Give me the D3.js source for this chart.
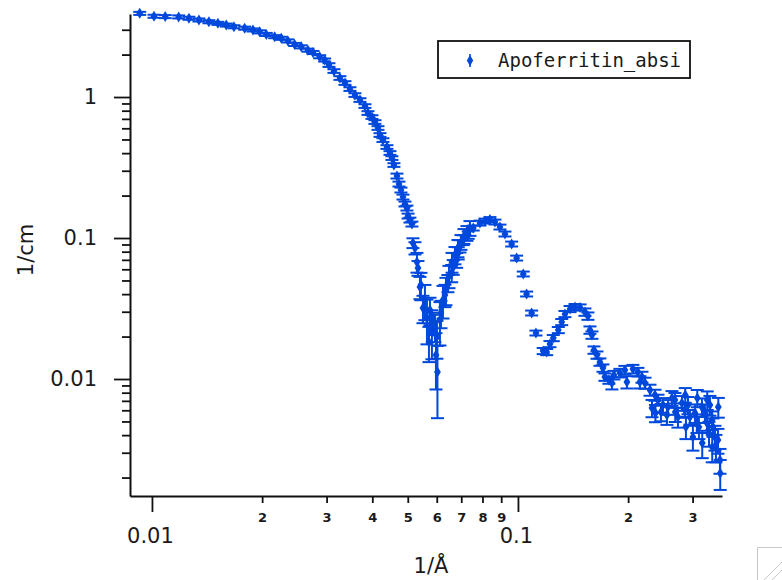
<!DOCTYPE html>
<html lang="en">
<head>
    <meta charset="UTF-8">
    <title>Apoferritin_absi</title>
    <script src="https://cdnjs.cloudflare.com/ajax/libs/d3/7.8.5/d3.min.js"></script>
    <style>
        body {
            margin: 0;
            padding: 0;
            background-color: #ffffff;
        }
        svg { display: block; }
        .axis path, .axis line {
            stroke: #111;
        }
        .axis text {
            fill: #1a1a1a;
            font-family: "DejaVu Sans", sans-serif;
        }
    </style>
</head>
<body>
    <div id="chart"></div>
    <script>
        // q (1/A)
        const qValues = [
            0.00926, 0.01013, 0.01087, 0.01183, 0.01262, 0.01344, 0.01431, 0.01514, 0.01596, 0.01675,
            0.01792, 0.01888, 0.01969, 0.02053, 0.02164, 0.02256, 0.02353, 0.02454, 0.02558, 0.02668,
            0.02754, 0.02872, 0.02964, 0.03045, 0.03142, 0.03263, 0.03368, 0.03475, 0.03586, 0.03701,
            0.03819, 0.03892, 0.03991, 0.04067, 0.04145, 0.04198, 0.04277, 0.04386, 0.04470, 0.04526,
            0.04583, 0.04671, 0.04731, 0.04790, 0.04851, 0.04912, 0.04974, 0.05009, 0.05069, 0.05133,
            0.05165, 0.05231, 0.05331, 0.05398, 0.05501, 0.05749, 0.05858, 0.05712, 0.05932, 0.06007,
            0.06026, 0.05970, 0.06160, 0.06317, 0.06437, 0.06591, 0.06656, 0.06800, 0.06869, 0.06943,
            0.07087, 0.07314, 0.07548, 0.07874, 0.08124, 0.08385, 0.08654, 0.08929, 0.09216, 0.09612,
            0.09917, 0.1034, 0.1056, 0.1090, 0.1120, 0.1172, 0.1198, 0.1223, 0.1249, 0.1289,
            0.1317, 0.1344, 0.1388, 0.1432, 0.1478, 0.1524, 0.1553, 0.1573, 0.1593, 0.1613,
            0.1644, 0.1675, 0.1707, 0.1728, 0.1772, 0.1829, 0.1899, 0.1960, 0.2061, 0.2127,
            0.2182, 0.2224, 0.2295, 0.2368, 0.2413, 0.2490, 0.2569, 0.2685, 0.2806, 0.2859,
            0.2950, 0.3045, 0.3083, 0.3182, 0.3242, 0.3284, 0.3389, 0.3410, 0.3453, 0.3519,
            0.3564, 0.3570, 0.05297, 0.05432, 0.05570, 0.05641, 0.05820, 0.06121, 0.06239, 0.06358,
            0.06479, 0.06603, 0.06728, 0.06856, 0.06987, 0.07120, 0.07255, 0.07394, 0.1985, 0.2324,
            0.2459, 0.2736, 0.2877, 0.3006, 0.3122, 0.3326, 0.3475, 0.2914, 0.3346, 0.2635,
            0.2154, 0.1806, 0.2375, 0.2553, 0.2690, 0.2865, 0.3090, 0.3290, 0.3527, 0.3395,
            0.3188
        ];
        // intensity (1/cm)
        const intensity = [
            3.92, 3.74, 3.72, 3.70, 3.62, 3.52, 3.42, 3.33, 3.24, 3.15,
            3.08, 2.99, 2.90, 2.78, 2.68, 2.61, 2.50, 2.36, 2.27, 2.15,
            2.07, 1.93, 1.83, 1.686, 1.529, 1.364, 1.257, 1.139, 1.033, 0.952,
            0.863, 0.770, 0.721, 0.665, 0.603, 0.538, 0.495, 0.442, 0.401, 0.369,
            0.3294, 0.2753, 0.2415, 0.2190, 0.1953, 0.1743, 0.1632, 0.1432, 0.1341, 0.1257,
            0.0922, 0.0849, 0.0613, 0.0449, 0.0319, 0.0309, 0.0250, 0.0183, 0.0234, 0.0199,
            0.01122, 0.01479, 0.02938, 0.03943, 0.04797, 0.05646, 0.06227, 0.06982, 0.07825, 0.08772,
            0.0968, 0.1050, 0.1177, 0.1277, 0.1320, 0.1353, 0.1299, 0.1197, 0.1068, 0.0907,
            0.0721, 0.0556, 0.0401, 0.0294, 0.0212, 0.0158, 0.01554, 0.0177, 0.01953, 0.02226,
            0.02537, 0.02891, 0.03137, 0.03241, 0.0322, 0.02986, 0.02797, 0.02226, 0.02051, 0.01606,
            0.01480, 0.01320, 0.01197, 0.01033, 0.00984, 0.01067, 0.01103, 0.01158, 0.01177, 0.01121,
            0.01033, 0.00937, 0.00836, 0.00770, 0.00710, 0.00654, 0.00633, 0.00710, 0.00676, 0.00603,
            0.00538, 0.00574, 0.00487, 0.00633, 0.00574, 0.00487, 0.00512, 0.00457, 0.00388, 0.00369,
            0.00266, 0.00215, 0.0676, 0.0464, 0.0363, 0.0271, 0.02226, 0.0262, 0.0363, 0.04278,
            0.05375, 0.0676, 0.0757, 0.0849, 0.0937, 0.1033, 0.1085, 0.1177, 0.00952, 0.00623,
            0.00583, 0.00538, 0.00457, 0.00388, 0.00457, 0.00414, 0.00329, 0.00654, 0.00654, 0.00733,
            0.00952, 0.00937, 0.00574, 0.00556, 0.00583, 0.00770, 0.00733, 0.00710, 0.00633, 0.00329,
            0.00352
        ];
        // relative error (sigma / I)
        const relErr = [
            0.025, 0.025, 0.025, 0.025, 0.025, 0.025, 0.025, 0.025, 0.025, 0.025,
            0.025, 0.025, 0.025, 0.025, 0.025, 0.025, 0.025, 0.025, 0.025, 0.025,
            0.025, 0.025, 0.025, 0.03, 0.03, 0.03, 0.03, 0.03, 0.03, 0.03,
            0.03, 0.03, 0.03, 0.03, 0.03, 0.03, 0.03, 0.03, 0.03, 0.03,
            0.03, 0.04, 0.04, 0.04, 0.04, 0.04, 0.04, 0.04, 0.04, 0.04,
            0.08, 0.10, 0.12, 0.18, 0.22, 0.22, 0.18, 0.28, 0.22, 0.30,
            0.53, 0.43, 0.22, 0.18, 0.14, 0.14, 0.12, 0.12, 0.10, 0.10,
            0.08, 0.06, 0.04, 0.04, 0.04, 0.04, 0.04, 0.04, 0.04, 0.04,
            0.04, 0.04, 0.04, 0.04, 0.04, 0.05, 0.05, 0.05, 0.05, 0.05,
            0.05, 0.05, 0.05, 0.05, 0.05, 0.06, 0.06, 0.06, 0.06, 0.06,
            0.06, 0.06, 0.06, 0.06, 0.06, 0.07, 0.07, 0.07, 0.07, 0.07,
            0.09, 0.09, 0.09, 0.09, 0.09, 0.12, 0.12, 0.12, 0.12, 0.12,
            0.12, 0.15, 0.15, 0.15, 0.15, 0.15, 0.15, 0.15, 0.20, 0.20,
            0.20, 0.24, 0.16, 0.22, 0.28, 0.35, 0.38, 0.34, 0.26, 0.22,
            0.18, 0.16, 0.14, 0.14, 0.12, 0.12, 0.12, 0.12, 0.10, 0.14,
            0.14, 0.16, 0.18, 0.20, 0.18, 0.20, 0.22, 0.14, 0.16, 0.12,
            0.10, 0.10, 0.14, 0.15, 0.15, 0.12, 0.14, 0.15, 0.16, 0.22,
            0.22
        ];

        const xMajorTicks = [0.01, 0.1];
        const xMajorLabels = ["0.01", "0.1"];
        const xMinorTicks = [0.02, 0.03, 0.04, 0.05, 0.06, 0.07, 0.08, 0.09, 0.2, 0.3];
        const xMinorLabels = ["2", "3", "4", "5", "6", "7", "8", "9", "2", "3"];
        const yMajorTicks = [0.01, 0.1, 1];
        const yMajorLabels = ["0.01", "0.1", "1"];
        const yMinorTicks = [0.002, 0.003, 0.004, 0.005, 0.006, 0.007, 0.008, 0.009,
            0.02, 0.03, 0.04, 0.05, 0.06, 0.07, 0.08, 0.09,
            0.2, 0.3, 0.4, 0.5, 0.6, 0.7, 0.8, 0.9, 2, 3];

        const seriesName = "Apoferritin_absi";
        const color = "#0048dc";

        const width = 782, height = 580;
        const plot = { left: 130, right: 722, top: 14, bottom: 496 };

        const svg = d3.select("#chart").append("svg")
            .attr("width", width)
            .attr("height", height);

        svg.append("rect").attr("width", width).attr("height", height).attr("fill", "#fff");

        const x = d3.scaleLog().domain([0.00871, 0.361]).range([plot.left, plot.right]);
        const y = d3.scaleLog().domain([0.00148, 3.88]).range([plot.bottom, plot.top]);

        // x axis: minor ticks with small digits, then majors
        const gxMinor = svg.append("g").attr("class", "axis")
            .attr("transform", `translate(0,${plot.bottom})`)
            .call(d3.axisBottom(x).tickValues(xMinorTicks).tickSize(7).tickSizeOuter(0)
                .tickFormat((d, i) => xMinorLabels[i]));
        gxMinor.select(".domain").remove();
        gxMinor.selectAll("line").attr("stroke-width", 1.8);
        gxMinor.selectAll("text").attr("y", 25.5).attr("dy", null)
            .style("font-size", "13px").style("font-weight", "bold");

        const gxMajor = svg.append("g").attr("class", "axis")
            .attr("transform", `translate(0,${plot.bottom})`)
            .call(d3.axisBottom(x).tickValues(xMajorTicks).tickSize(16).tickSizeOuter(0)
                .tickFormat((d, i) => xMajorLabels[i]));
        gxMajor.select(".domain").attr("stroke-width", 2);
        gxMajor.selectAll("line").attr("stroke-width", 1.8);
        gxMajor.selectAll("text").attr("y", 47).attr("dy", null).attr("dx", -2).style("font-size", "21px");

        // y axis
        const gyMinor = svg.append("g").attr("class", "axis")
            .attr("transform", `translate(${plot.left},0)`)
            .call(d3.axisLeft(y).tickValues(yMinorTicks).tickSize(8).tickSizeOuter(0).tickFormat(""));
        gyMinor.select(".domain").remove();
        gyMinor.selectAll("line").attr("stroke-width", 1.8);

        const gyMajor = svg.append("g").attr("class", "axis")
            .attr("transform", `translate(${plot.left},0)`)
            .call(d3.axisLeft(y).tickValues(yMajorTicks).tickSize(16).tickSizeOuter(0).tickPadding(17)
                .tickFormat((d, i) => yMajorLabels[i]));
        gyMajor.select(".domain").attr("stroke-width", 2);
        gyMajor.selectAll("line").attr("stroke-width", 1.8);
        gyMajor.selectAll("text").style("font-size", "21px");

        // axis titles
        svg.append("text")
            .attr("transform", "translate(33,250) rotate(-90)")
            .attr("text-anchor", "middle")
            .style("font-family", "'DejaVu Sans', sans-serif")
            .style("font-size", "21px")
            .attr("fill", "#1a1a1a")
            .text("1/cm");

        svg.append("text")
            .attr("x", 431)
            .attr("y", 573)
            .attr("text-anchor", "middle")
            .style("font-family", "'DejaVu Sans', sans-serif")
            .style("font-size", "21px")
            .attr("fill", "#1a1a1a")
            .text("1/Å");

        // data points with error bars
        const points = qValues.map((q, i) => ({ q, I: intensity[i], s: intensity[i] * relErr[i] }));
        const capHalf = 6.5;

        const pt = svg.append("g")
            .selectAll("g")
            .data(points)
            .enter().append("g")
            .attr("stroke", color)
            .attr("stroke-width", 2)
            .attr("fill", color);

        pt.append("line")
            .attr("x1", d => x(d.q)).attr("x2", d => x(d.q))
            .attr("y1", d => y(d.I + d.s)).attr("y2", d => y(d.I - d.s));
        pt.append("line")
            .attr("x1", d => x(d.q) - capHalf).attr("x2", d => x(d.q) + capHalf)
            .attr("y1", d => y(d.I + d.s)).attr("y2", d => y(d.I + d.s));
        pt.append("line")
            .attr("x1", d => x(d.q) - capHalf).attr("x2", d => x(d.q) + capHalf)
            .attr("y1", d => y(d.I - d.s)).attr("y2", d => y(d.I - d.s));
        pt.append("path")
            .attr("stroke", "none")
            .attr("d", d => {
                const cx = x(d.q), cy = y(d.I);
                return `M${cx},${cy - 5.5}L${cx + 3.4},${cy}L${cx},${cy + 5.5}L${cx - 3.4},${cy}Z`;
            });

        // legend
        const legend = svg.append("g");
        legend.append("rect")
            .attr("x", 438).attr("y", 41)
            .attr("width", 252).attr("height", 37)
            .attr("fill", "#fff")
            .attr("stroke", "#111")
            .attr("stroke-width", 1.8);
        legend.append("line")
            .attr("x1", 470).attr("x2", 470).attr("y1", 54).attr("y2", 67)
            .attr("stroke", color).attr("stroke-width", 1.6);
        legend.append("path")
            .attr("d", "M470,55L473.2,60.5L470,66L466.8,60.5Z")
            .attr("fill", color);
        legend.append("text")
            .attr("x", 498).attr("y", 67)
            .style("font-family", "'DejaVu Sans Mono', monospace")
            .style("font-size", "19px")
            .attr("fill", "#1a1a1a")
            .text(seriesName);

        // window resize grip in the corner
        const grip = svg.append("g").attr("stroke", "#c8c8c8").attr("stroke-width", 1).attr("fill", "none");
        grip.append("path").attr("d", "M757.5,580V547.5H782");
        grip.append("path").attr("d", "M764,580L782,562M772,580L782,570");
    </script>
</body>
</html>
